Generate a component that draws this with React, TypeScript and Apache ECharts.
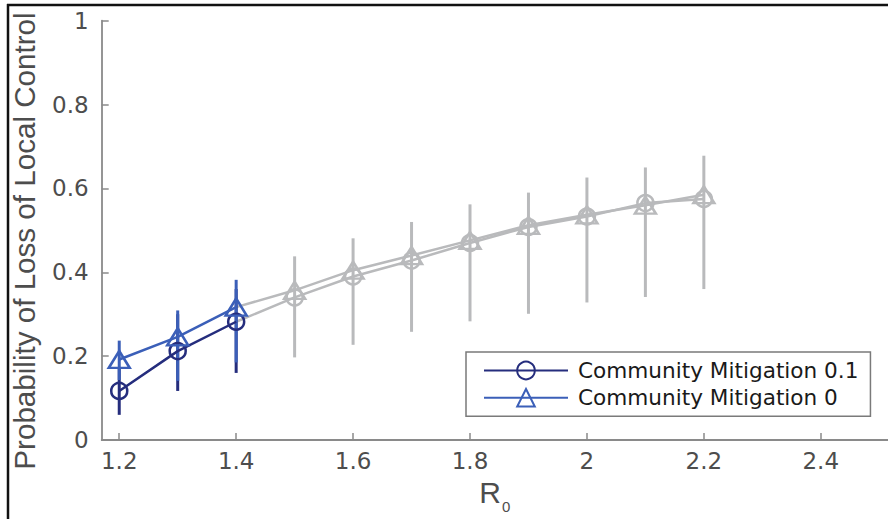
import React, { useEffect, useRef } from 'react';
import * as echarts from 'echarts';

// R0 values where the series are drawn in colour
const r0Colored = [1.2, 1.3, 1.4];
const mit01Colored = [0.117, 0.212, 0.282];
const mit0Colored = [0.192, 0.246, 0.317];
const mit01ColoredLow = [0.06, 0.117, 0.16];
const mit01ColoredHigh = [0.17, 0.3, 0.36];
const mit0ColoredLow = [0.143, 0.141, 0.185];
const mit0ColoredHigh = [0.237, 0.309, 0.382];

// R0 values where the series continue in grey
const r0Gray = [1.4, 1.5, 1.6, 1.7, 1.8, 1.9, 2.0, 2.1, 2.2];
const mit01Gray = [0.282, 0.34, 0.39, 0.428, 0.47, 0.508, 0.533, 0.565, 0.575];
const mit0Gray = [0.317, 0.357, 0.405, 0.44, 0.476, 0.512, 0.537, 0.56, 0.585];
const r0GrayBars = [1.5, 1.6, 1.7, 1.8, 1.9, 2.0, 2.1, 2.2];
const grayBarLow = [0.197, 0.227, 0.258, 0.283, 0.301, 0.328, 0.341, 0.36];
const grayBarHigh = [0.438, 0.481, 0.52, 0.562, 0.59, 0.626, 0.65, 0.678];

const xTicks = [1.2, 1.4, 1.6, 1.8, 2.0, 2.2, 2.4];
const legendNames = ['Community Mitigation 0.1', 'Community Mitigation 0'];

const NAVY = '#252d7d';
const BLUE = '#3b5fb8';
const GRAY = '#b9babc';
const AXIS = '#8a8a8a';
const LABEL = '#4d4d4d';

const errorBarSeries = (
  name: string,
  xs: number[],
  lo: number[],
  hi: number[],
  color: string,
  z: number
) => ({
  type: 'custom',
  name,
  z,
  silent: true,
  data: xs.map((x, i) => [x, lo[i], hi[i]]),
  encode: { x: 0, y: [1, 2] },
  renderItem: (_params: any, api: any) => {
    const p1 = api.coord([api.value(0), api.value(1)]);
    const p2 = api.coord([api.value(0), api.value(2)]);
    return {
      type: 'line',
      shape: { x1: p1[0], y1: p1[1], x2: p2[0], y2: p2[1] },
      style: { stroke: color, lineWidth: 3 },
    };
  },
});

export default function App() {
  const ref = useRef<HTMLDivElement>(null);

  useEffect(() => {
    if (!ref.current) return;
    const chart = echarts.init(ref.current, undefined, { renderer: 'svg' });
    const grayData = (ys: number[]) =>
      r0Gray.map((x, i) => (i === 0 ? { value: [x, ys[i]], symbol: 'none' } : { value: [x, ys[i]] }));

    chart.setOption({
      animation: false,
      backgroundColor: '#ffffff',
      grid: { left: 101.7, right: 0, top: 20.7, bottom: 76.3, containLabel: false },
      xAxis: {
        type: 'value',
        min: 1.17,
        max: 2.515,
        name: '{r|R}{s|0}',
        nameLocation: 'middle',
        nameGap: 37,
        nameTextStyle: {
          rich: {
            r: { fontSize: 30, lineHeight: 30, fontFamily: 'Liberation Sans', color: LABEL, verticalAlign: 'top' },
            s: {
              fontSize: 15,
              lineHeight: 15,
              fontFamily: 'Liberation Sans',
              color: LABEL,
              verticalAlign: 'top',
              padding: [22, 0, 0, 1],
            },
          },
        },
        axisLine: { show: true, lineStyle: { color: AXIS, width: 1.8 } },
        axisTick: { show: true, inside: true, length: 7, lineStyle: { color: AXIS, width: 1.5 }, customValues: xTicks },
        axisLabel: {
          customValues: xTicks,
          margin: 9,
          fontSize: 23,
          fontFamily: 'DejaVu Sans',
          color: LABEL,
        },
        splitLine: { show: false },
      },
      yAxis: {
        type: 'value',
        min: 0,
        max: 1,
        interval: 0.2,
        axisLine: { show: true, lineStyle: { color: AXIS, width: 1.8 } },
        axisTick: { show: true, inside: true, length: 7, lineStyle: { color: AXIS, width: 1.5 } },
        axisLabel: { margin: 13, fontSize: 23, fontFamily: 'DejaVu Sans', color: LABEL },
        splitLine: { show: false },
      },
      legend: {
        data: legendNames,
        orient: 'vertical',
        left: 466,
        top: 352,
        padding: [6, 12, 6, 17],
        itemWidth: 84,
        itemHeight: 22,
        itemGap: 2.3,
        backgroundColor: '#ffffff',
        borderColor: '#7a7a7a',
        borderWidth: 1.5,
        borderRadius: 0,
        selectedMode: false,
        textStyle: {
          fontSize: 21.6,
          lineHeight: 25,
          fontFamily: 'DejaVu Sans',
          color: '#1a1a1a',
          padding: [0, 0, 0, 5],
        },
      },
      graphic: [
        {
          type: 'line',
          shape: { x1: 7, y1: 5, x2: 888, y2: 5 },
          style: { stroke: '#111', lineWidth: 2.5 },
          z: 100,
        },
        {
          type: 'line',
          shape: { x1: 8, y1: 4, x2: 8, y2: 519 },
          style: { stroke: '#111', lineWidth: 2.5 },
          z: 100,
        },
        {
          type: 'text',
          x: 24.5,
          y: 241,
          rotation: Math.PI / 2,
          style: {
            text: 'Probability of Loss of Local Control',
            fontSize: 29.6,
            fontFamily: 'Liberation Sans',
            fill: LABEL,
            align: 'center',
            verticalAlign: 'middle',
          },
        },
      ],
      series: [
        errorBarSeries('gray bars', r0GrayBars, grayBarLow, grayBarHigh, GRAY, 1),
        {
          type: 'line',
          name: 'Mitigation 0.1 (continued)',
          z: 2,
          data: grayData(mit01Gray),
          symbol: 'circle',
          symbolSize: 16,
          lineStyle: { color: GRAY, width: 2.5 },
          itemStyle: { color: 'rgba(0,0,0,0)', borderColor: GRAY, borderWidth: 2.5 },
        },
        {
          type: 'line',
          name: 'Mitigation 0 (continued)',
          z: 2,
          data: grayData(mit0Gray),
          symbol: 'triangle',
          symbolSize: [21, 17],
          lineStyle: { color: GRAY, width: 2.5 },
          itemStyle: { color: 'rgba(0,0,0,0)', borderColor: GRAY, borderWidth: 2.5 },
        },
        errorBarSeries('navy bars', r0Colored, mit01ColoredLow, mit01ColoredHigh, NAVY, 3),
        errorBarSeries('blue bars', r0Colored, mit0ColoredLow, mit0ColoredHigh, BLUE, 4),
        {
          type: 'line',
          name: legendNames[0],
          z: 5,
          data: r0Colored.map((x, i) => [x, mit01Colored[i]]),
          symbol: 'circle',
          symbolSize: 16,
          lineStyle: { color: NAVY, width: 2.5 },
          itemStyle: { color: 'rgba(0,0,0,0)', borderColor: NAVY, borderWidth: 2.5 },
        },
        {
          type: 'line',
          name: legendNames[1],
          z: 6,
          data: r0Colored.map((x, i) => [x, mit0Colored[i]]),
          symbol: 'triangle',
          symbolSize: [21, 17],
          lineStyle: { color: BLUE, width: 2.5 },
          itemStyle: { color: 'rgba(0,0,0,0)', borderColor: BLUE, borderWidth: 2.5 },
        },
      ],
    });
    return () => chart.dispose();
  }, []);

  return (
    <div
      ref={ref}
      style={{ position: 'fixed', left: 0, top: 0, width: 888, height: 519 }}
    />
  );
}
